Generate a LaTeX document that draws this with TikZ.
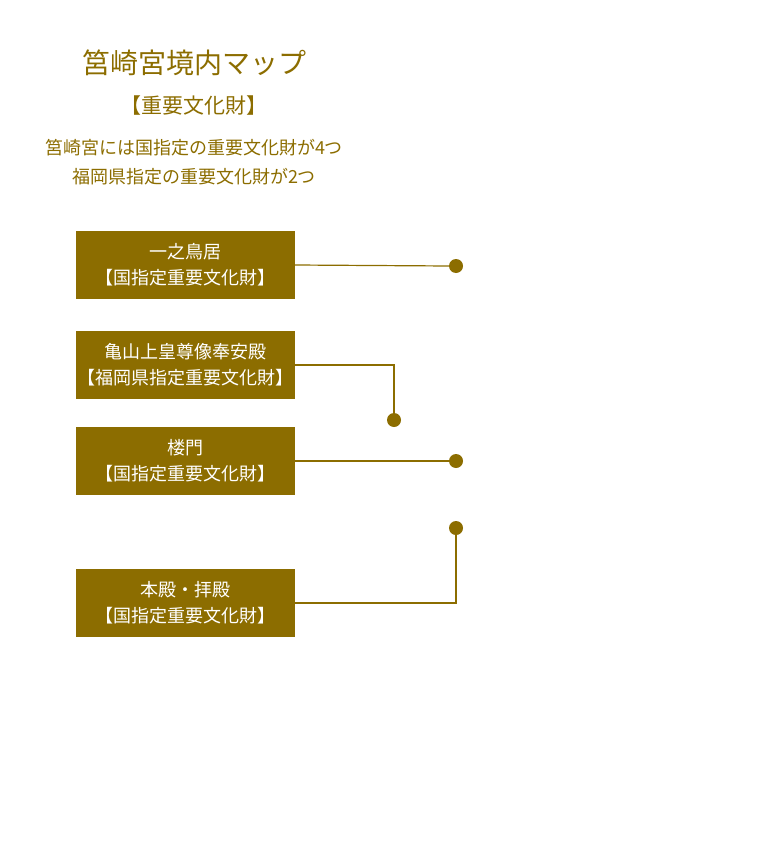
\documentclass[tikz,border=0pt]{standalone}
\usepackage{fontspec}
\newfontfamily\cjk{Noto Sans CJK JP}
\definecolor{gold}{HTML}{8C6D00}
\begin{document}
\begin{tikzpicture}[x=1pt,y=-1pt,
  box/.style={fill=gold,text=white,minimum width=219pt,minimum height=68pt,align=center,font=\cjk\fontsize{18}{26}\selectfont,inner sep=0pt},
  dot/.style={circle,fill=gold,minimum size=14pt,inner sep=0pt},
  ln/.style={draw=gold,line width=1.2pt},
  ttl/.style={text=gold,font=\cjk}]
\useasboundingbox (0,0) rectangle (756,867);
\node[ttl,font=\cjk\fontsize{28}{32}\selectfont] (t1) at (194,63) {筥崎宮境内マップ};
\node[ttl,font=\cjk\fontsize{21}{24}\selectfont] (t2) at (194,106) {【重要文化財】};
\node[ttl,font=\cjk\fontsize{18}{20}\selectfont] (t3) at (194,148) {筥崎宮には国指定の重要文化財が4つ};
\node[ttl,font=\cjk\fontsize{18}{20}\selectfont] (t4) at (194,177) {福岡県指定の重要文化財が2つ};
\node[box] (b1) at (185.5,265) {一之鳥居\\【国指定重要文化財】};
\node[box] (b2) at (185.5,365) {亀山上皇尊像奉安殿\\【福岡県指定重要文化財】};
\node[box] (b3) at (185.5,461) {楼門\\【国指定重要文化財】};
\node[box] (b4) at (185.5,603) {本殿・拝殿\\【国指定重要文化財】};
\node[dot] (d1) at (456,266) {};
\node[dot] (d2) at (394,420) {};
\node[dot] (d3) at (456,461) {};
\node[dot] (d4) at (456,528) {};
\draw[ln] (b1.east) -- (d1.west);
\draw[ln] (b2.east) -| (d2.north);
\draw[ln] (b3.east) -- (d3.west);
\draw[ln] (b4.east) -| (d4.south);
\end{tikzpicture}
\end{document}
